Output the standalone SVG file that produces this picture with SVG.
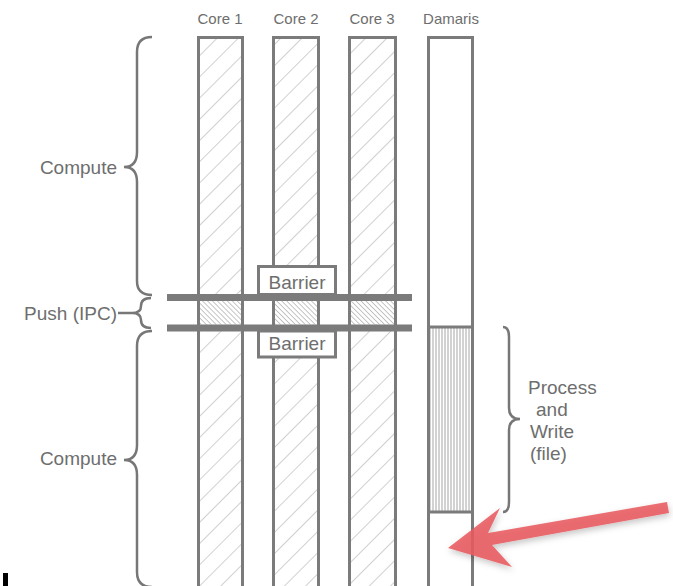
<svg xmlns="http://www.w3.org/2000/svg" width="673" height="586" viewBox="0 0 673 586">
<style>
.lbl{font-family:"Liberation Sans",Arial,sans-serif;fill:#6e6e6e}
.col{fill:url(#diag);stroke:#7b7b7b;stroke-width:3}
.brace{fill:none;stroke:#777;stroke-width:2.5}
.box{fill:#fff;stroke:#7b7b7b;stroke-width:3}
.bar{fill:#7b7b7b}
.push{fill:url(#dense)}
</style>
<defs>
<pattern id="diag" width="15" height="15" patternUnits="userSpaceOnUse" patternTransform="rotate(45)">
<rect width="15" height="15" fill="#fff"/>
<line x1="0" y1="0" x2="0" y2="15" stroke="#b0b0b0" stroke-width="1.2"/>
</pattern>
<pattern id="dense" width="3.5" height="3.5" patternUnits="userSpaceOnUse" patternTransform="rotate(-45)">
<rect width="3.5" height="3.5" fill="#fff"/>
<line x1="0" y1="0" x2="0" y2="3.5" stroke="#a0a0a0" stroke-width="1.2"/>
</pattern>
<pattern id="vert" width="3" height="10" patternUnits="userSpaceOnUse">
<rect width="3" height="10" fill="#fff"/>
<line x1="1" y1="0" x2="1" y2="10" stroke="#a5a5a5" stroke-width="1"/>
</pattern>
<filter id="sh" x="-20%" y="-50%" width="140%" height="200%">
<feDropShadow dx="1" dy="3" stdDeviation="3" flood-color="#000" flood-opacity="0.25"/>
</filter>
</defs>

<g id="labels-top">
<text class="lbl" x="220" y="24" font-size="15" text-anchor="middle">Core 1</text>
<text class="lbl" x="296" y="24" font-size="15" text-anchor="middle">Core 2</text>
<text class="lbl" x="372" y="24" font-size="15" text-anchor="middle">Core 3</text>
<text class="lbl" x="451" y="24" font-size="15" text-anchor="middle">Damaris</text>
</g>

<g id="core1"><rect class="col" x="198.5" y="37.5" width="44" height="560"/><rect class="push" x="200" y="301" width="41" height="23.5"/></g>
<g id="core2"><rect class="col" x="273.5" y="37.5" width="45" height="560"/><rect class="push" x="275" y="301" width="42" height="23.5"/></g>
<g id="core3"><rect class="col" x="349.5" y="37.5" width="46" height="560"/><rect class="push" x="351" y="301" width="43" height="23.5"/></g>
<g id="damaris">
<rect x="428.5" y="37.5" width="44" height="560" fill="#fff" stroke="#7b7b7b" stroke-width="3"/>
<rect x="430" y="328" width="41" height="183" fill="url(#vert)"/>
<line x1="428" y1="327" x2="473" y2="327" stroke="#7b7b7b" stroke-width="3"/>
<line x1="428" y1="512" x2="473" y2="512" stroke="#7b7b7b" stroke-width="3"/>
</g>

<g id="bars">
<rect class="bar" x="167" y="294" width="245" height="7"/>
<rect class="bar" x="167" y="324.5" width="245" height="7"/>
</g>

<g id="barrier-top">
<rect class="box" x="258.5" y="266.5" width="77" height="28"/>
<text class="lbl" x="297" y="289" font-size="19" text-anchor="middle">Barrier</text>
</g>
<g id="barrier-bottom">
<rect class="box" x="258.5" y="331" width="77" height="26"/>
<text class="lbl" x="297" y="350" font-size="19" text-anchor="middle">Barrier</text>
</g>

<g id="connectors">
<path class="brace" d="M152,37 Q137,37 137,52 L137,152 Q137,167 124,167 Q137,167 137,182 L137,281 Q137,295 152,295"/>
<path class="brace" d="M151,298 Q141,298 141,306 Q141,313 132,313 Q141,313 141,320 Q141,328 151,328"/>
<line class="brace" x1="118" y1="313" x2="132" y2="313"/>
<path class="brace" d="M152,331 Q137,331 137,346 L137,445 Q137,460 124,460 Q137,460 137,475 L137,572 Q137,587 152,587"/>
<path class="brace" d="M503,327 Q509,327 509,337 L509,408 Q509,419 520,419 Q509,419 509,430 L509,502 Q509,512 503,512"/>
</g>

<g id="labels-side">
<text class="lbl" x="117" y="174" font-size="19" text-anchor="end">Compute</text>
<text class="lbl" x="117" y="320" font-size="19" text-anchor="end">Push (IPC)</text>
<text class="lbl" x="117" y="465" font-size="19" text-anchor="end">Compute</text>
<text class="lbl" x="528" y="394" font-size="19">Process</text>
<text class="lbl" x="536" y="416" font-size="19">and</text>
<text class="lbl" x="530" y="438" font-size="19">Write</text>
<text class="lbl" x="530" y="460" font-size="19">(file)</text>
</g>

<g id="arrow">
<path d="M448,548 L500,508 L488,533 L667,502 L669,513 L492,545 L512,567 Z" fill="#e85a60" fill-opacity="0.88" filter="url(#sh)"/>
</g>

<rect x="3" y="573" width="5" height="13" fill="#000"/>
</svg>
